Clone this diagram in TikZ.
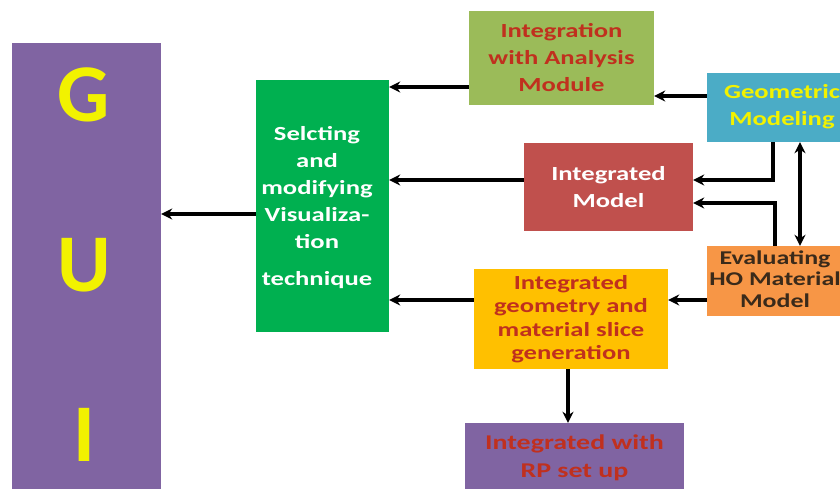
\documentclass[tikz,border=0pt]{standalone}
\usepackage{fontspec}
\setmainfont{Carlito}
\newfontfamily\boxfont{Carlito}[FakeStretch=1.33]
\usetikzlibrary{arrows.meta}
\definecolor{cgui}{HTML}{8064A2}
\definecolor{cgreen}{HTML}{00B050}
\definecolor{colive}{HTML}{9BBB59}
\definecolor{cred}{HTML}{C0504D}
\definecolor{cblue}{HTML}{4BACC6}
\definecolor{corange}{HTML}{F79646}
\definecolor{cyel}{HTML}{FFC000}
\definecolor{tred}{HTML}{C0301E}
\definecolor{tbrown}{HTML}{3A2A1A}
\definecolor{tyel}{HTML}{F2F200}
\begin{document}
\begin{tikzpicture}[x=1pt,y=-1pt,
  box/.style={draw=none,inner sep=0pt,align=center,font=\boxfont\bfseries\fontsize{20}{27}\selectfont},
  gletter/.style={font=\bfseries\fontsize{82}{82}\selectfont,text=tyel,inner sep=0pt},
  arr/.style={line width=3.4pt,-{Stealth[length=11pt,width=11pt]}},
  darr/.style={line width=3.4pt,{Stealth[length=11pt,width=11pt]}-{Stealth[length=11pt,width=11pt]}}]
\useasboundingbox (0,0) rectangle (840,489);
\fill[white] (0,0) rectangle (840,489);
% GUI
\node[box,fill=cgui,minimum width=149pt,minimum height=460pt] (gui) at (86.5,273) {};
\node[gletter] (g1) at (84,95) {G};
\node[gletter] (g2) at (84,265) {U};
\node[gletter] (g3) at (84,435) {I};
% green
\node[box,fill=cgreen,text=white,minimum width=133pt,minimum height=252pt] (vis) at (322.5,206) {};
\node[box,text=white,text width=140pt] (vistext) at (317,208) {Selcting\\and\\modifying\\Visualiza-\\tion\\[10pt]technique};
% integration
\node[box,fill=colive,text=tred,minimum width=185pt,minimum height=94pt] (integ) at (561.5,58) {Integration\\with Analysis\\Module};
% geometric
\node[box,fill=cblue,text=tyel,minimum width=133pt,minimum height=69pt] (geo) at (773.5,107.5) {};
\node[box,text=tyel] (geotext) at (782,107) {Geometric\\Modeling};
% integrated model
\node[box,fill=cred,text=white,minimum width=169pt,minimum height=88pt] (model) at (608.5,187) {Integrated\\Model};
% evaluating
\node[box,fill=corange,minimum width=133pt,minimum height=70pt] (eval) at (773.5,281) {};
\node[box,text=tbrown,font=\boxfont\bfseries\fontsize{19.5}{21.5}\selectfont] (evaltext) at (775,279) {Evaluating\\HO Material\\Model};
% yellow
\node[box,fill=cyel,text=tred,minimum width=194pt,minimum height=100pt,font=\boxfont\bfseries\fontsize{20}{23.5}\selectfont] (slice) at (571,319) {Integrated\\geometry and\\material slice\\generation};
% RP
\node[box,fill=cgui,text=tred,minimum width=219pt,minimum height=70pt,font=\boxfont\bfseries\fontsize{21}{28}\selectfont] (rp) at (574.5,458) {Integrated with\\RP set up};
% arrows
\draw[arr] (vis.west|-0,214) -- (gui.east|-0,214);
\draw[arr] (integ.west|-0,87) -- (vis.east|-0,87);
\draw[arr] (geo.west|-0,96) -- (integ.east|-0,96);
\draw[arr] (model.west|-0,180) -- (vis.east|-0,180);
\draw[arr] (geo.south-|773,0) |- (model.east|-0,180);
\draw[arr] (eval.north-|775,0) |- (model.east|-0,203);
\draw[darr] (geo.south-|800,0) -- (eval.north-|800,0);
\draw[arr] (eval.west|-0,300) -- (slice.east|-0,300);
\draw[arr] (slice.west|-0,300) -- (vis.east|-0,300);
\draw[arr] (slice.south-|568,0) -- (rp.north-|568,0);
\end{tikzpicture}
\end{document}
